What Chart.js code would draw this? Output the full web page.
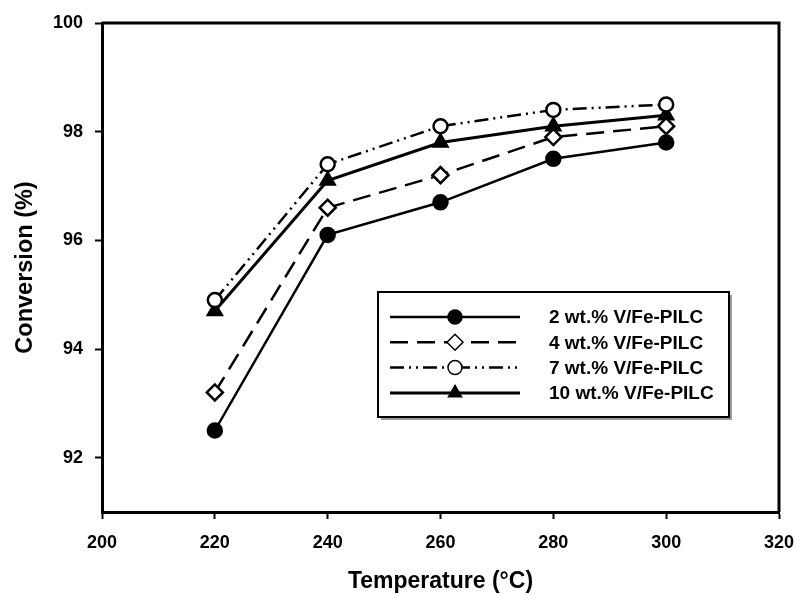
<!DOCTYPE html>
<html>
<head>
<meta charset="utf-8">
<script src="https://cdn.jsdelivr.net/npm/chart.js@4.4.1/dist/chart.umd.min.js"></script>
<style>
  html, body { margin: 0; padding: 0; background: #fff; }
  #wrap { width: 797px; height: 595px; }
</style>
</head>
<body>
<div id="wrap"><canvas id="chart"></canvas></div>
<script>
const temps = [220, 240, 260, 280, 300];
const conv2 = [92.5, 96.1, 96.7, 97.5, 97.8];
const conv4 = [93.2, 96.6, 97.2, 97.9, 98.1];
const conv7 = [94.9, 97.4, 98.1, 98.4, 98.5];
const conv10 = [94.7, 97.1, 97.8, 98.1, 98.3];
const seriesNames = ["2 wt.% V/Fe-PILC", "4 wt.% V/Fe-PILC", "7 wt.% V/Fe-PILC", "10 wt.% V/Fe-PILC"];
const xTicks = [200, 220, 240, 260, 280, 300, 320];
const yTicks = [92, 94, 96, 98, 100];

const FONT = "'Liberation Sans', Arial, sans-serif";
const toPoints = vals => temps.map((t, i) => ({ x: t, y: vals[i] }));

// draw a marker the same way for the plot legend box
function drawMarker(ctx, style, x, y, r, fill) {
  ctx.save();
  ctx.fillStyle = fill;
  ctx.strokeStyle = "#000";
  ctx.lineWidth = 1.5;
  ctx.setLineDash([]);
  ctx.beginPath();
  if (style === "circle") {
    ctx.arc(x, y, r, 0, Math.PI * 2);
  } else if (style === "rectRot") {
    ctx.moveTo(x, y - r); ctx.lineTo(x + r, y); ctx.lineTo(x, y + r); ctx.lineTo(x - r, y);
    ctx.closePath();
  } else if (style === "triangle") {
    ctx.moveTo(x, y - r); ctx.lineTo(x + r * 0.87, y + r * 0.5); ctx.lineTo(x - r * 0.87, y + r * 0.5);
    ctx.closePath();
  }
  ctx.fill();
  ctx.stroke();
  ctx.restore();
}

const frameAndLegend = {
  id: "frameAndLegend",
  afterDraw(chart) {
    const { ctx, chartArea: a } = chart;
    ctx.save();
    // top and right sides of the frame
    ctx.strokeStyle = "#000";
    ctx.lineWidth = 3;
    ctx.beginPath();
    ctx.moveTo(a.left, a.top);
    ctx.lineTo(a.right, a.top);
    ctx.lineTo(a.right, a.bottom);
    ctx.stroke();

    // legend box with a light shadow
    const box = { x: 378, y: 292, w: 351, h: 125 };
    ctx.fillStyle = "#9a9a9a";
    ctx.fillRect(box.x + 3, box.y + 3, box.w, box.h);
    ctx.fillStyle = "#fff";
    ctx.fillRect(box.x, box.y, box.w, box.h);
    ctx.lineWidth = 2;
    ctx.strokeRect(box.x, box.y, box.w, box.h);

    ctx.font = "bold 19px " + FONT;
    ctx.textBaseline = "middle";
    ctx.textAlign = "left";
    chart.data.datasets.forEach((ds, i) => {
      const y = 317 + i * 25.3;
      ctx.strokeStyle = "#000";
      ctx.lineWidth = ds.borderWidth;
      ctx.setLineDash(ds.borderDash || []);
      ctx.beginPath();
      ctx.moveTo(390, y);
      ctx.lineTo(520, y);
      ctx.stroke();
      ctx.setLineDash([]);
      drawMarker(ctx, ds.pointStyle, 455, y, ds.pointRadius, ds.pointBackgroundColor);
      ctx.fillStyle = "#000";
      ctx.fillText(ds.label, 549, y + 1);
    });
    ctx.restore();
  }
};

new Chart(document.getElementById("chart"), {
  type: "line",
  data: {
    datasets: [
      {
        label: seriesNames[0], data: toPoints(conv2),
        borderColor: "#000", borderWidth: 2.5,
        pointStyle: "circle", pointRadius: 7, pointBackgroundColor: "#000", pointBorderColor: "#000"
      },
      {
        label: seriesNames[1], data: toPoints(conv4),
        borderColor: "#000", borderWidth: 2.5, borderDash: [18, 9],
        pointStyle: "rectRot", pointRadius: 8, pointBackgroundColor: "#fff", pointBorderColor: "#000"
      },
      {
        label: seriesNames[2], data: toPoints(conv7),
        borderColor: "#000", borderWidth: 2.5, borderDash: [14, 5, 2, 5, 2, 5],
        pointStyle: "circle", pointRadius: 7, pointBackgroundColor: "#fff", pointBorderColor: "#000"
      },
      {
        label: seriesNames[3], data: toPoints(conv10),
        borderColor: "#000", borderWidth: 3,
        pointStyle: "triangle", pointRadius: 7.5, pointBackgroundColor: "#000", pointBorderColor: "#000"
      }
    ]
  },
  options: {
    responsive: true,
    maintainAspectRatio: false,
    animation: false,
    parsing: false,
    layout: { padding: { top: 23, right: 18, left: 0, bottom: 0 } },
    plugins: { legend: { display: false }, tooltip: { enabled: false } },
    elements: { line: { tension: 0, fill: false }, point: { borderWidth: 1.5 } },
    scales: {
      x: {
        type: "linear", min: 200, max: 320,
        afterBuildTicks: s => { s.ticks = xTicks.map(v => ({ value: v })); },
        afterFit: s => { s.height = 83; s.paddingLeft = 0; s.paddingRight = 0; },
        ticks: { color: "#000", padding: 13, font: { family: FONT, size: 18, weight: "bold" } },
        grid: { drawOnChartArea: false, drawTicks: true, tickLength: 7, tickColor: "#000", tickWidth: 2 },
        border: { color: "#000", width: 3 },
        title: {
          display: true, text: "Temperature (°C)", color: "#000",
          font: { family: FONT, size: 23, weight: "bold" }, padding: { top: 0, bottom: 0 }
        }
      },
      y: {
        type: "linear", min: 91, max: 100,
        afterBuildTicks: s => { s.ticks = yTicks.map(v => ({ value: v })); },
        afterFit: s => { s.width = 102; s.paddingTop = 0; s.paddingBottom = 0; },
        ticks: { color: "#000", padding: 12, font: { family: FONT, size: 18, weight: "bold" } },
        grid: { drawOnChartArea: false, drawTicks: true, tickLength: 7, tickColor: "#000", tickWidth: 2 },
        border: { color: "#000", width: 3 },
        title: {
          display: true, text: "Conversion (%)", color: "#000",
          font: { family: FONT, size: 23.5, weight: "bold" }, padding: { top: 11, bottom: 0 }
        }
      }
    }
  },
  plugins: [frameAndLegend]
});
</script>
</body>
</html>
